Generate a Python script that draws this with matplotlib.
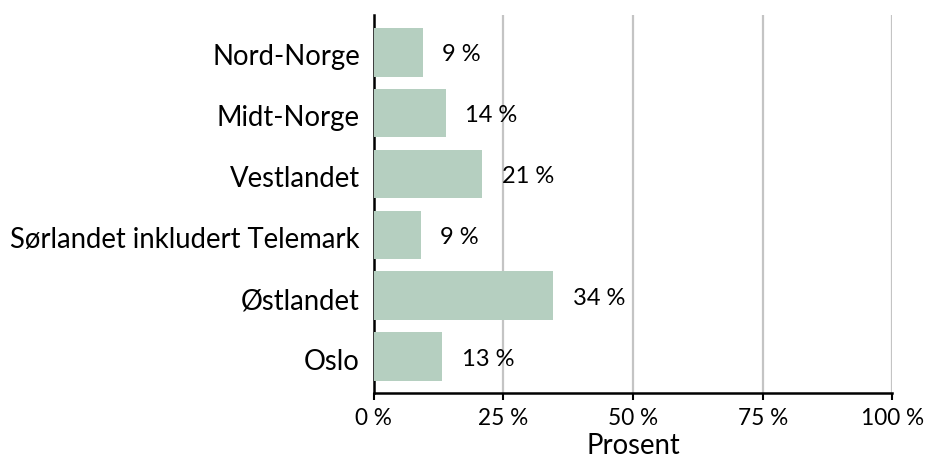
import matplotlib
matplotlib.use("Agg")
import matplotlib.pyplot as plt
import matplotlib.transforms as mtransforms

categories = ["Nord-Norge", "Midt-Norge", "Vestlandet",
              "Sørlandet inkludert Telemark", "Østlandet", "Oslo"]
values = [9.5, 13.9, 20.9, 9.1, 34.6, 13.2]
labels = ["9 %", "14 %", "21 %", "9 %", "34 %", "13 %"]
xticks = [0, 25, 50, 75, 100]
xticklabels = ["0 %", "25 %", "50 %", "75 %", "100 %"]

plt.rcParams['font.family'] = ['Lato', 'DejaVu Sans']

fig = plt.figure(figsize=(9.28, 4.59), dpi=100)
ax = fig.add_axes([373.7/928, 1-392.7/459, (892.4-373.7)/928, (392.7-15)/459])

ypos = list(range(len(categories)))
ax.barh(ypos, values, height=0.8, color="#b5cfc0", zorder=3)
for y, v, t in zip(ypos, values, labels):
    ax.annotate(t, (v, y), xytext=(14, -2), textcoords="offset points",
                ha="left", va="center", fontsize=17, color="black")

ax.set_ylim(5.59, -0.61)
ax.set_xlim(0, 100)
ax.set_yticks(ypos)
ax.set_yticklabels(categories, fontsize=19.8)
ax.tick_params(axis="y", length=0, pad=10)
shift = mtransforms.ScaledTranslation(0, -2/72, fig.dpi_scale_trans)
for lab in ax.get_yticklabels():
    lab.set_transform(lab.get_transform() + shift)
ax.set_xticks(xticks)
ax.set_xticklabels(xticklabels, fontsize=16.3)
ax.tick_params(axis="x", length=5, width=1.5, pad=6)
ax.grid(axis="x", color="#c4c4c4", linewidth=1.6, zorder=0)
for s in ["top", "right"]:
    ax.spines[s].set_visible(False)
for s in ["left", "bottom"]:
    ax.spines[s].set_linewidth(1.8)
ax.set_xlabel("Prosent", fontsize=19.8, labelpad=3)

fig.savefig("out.png", dpi=100)
